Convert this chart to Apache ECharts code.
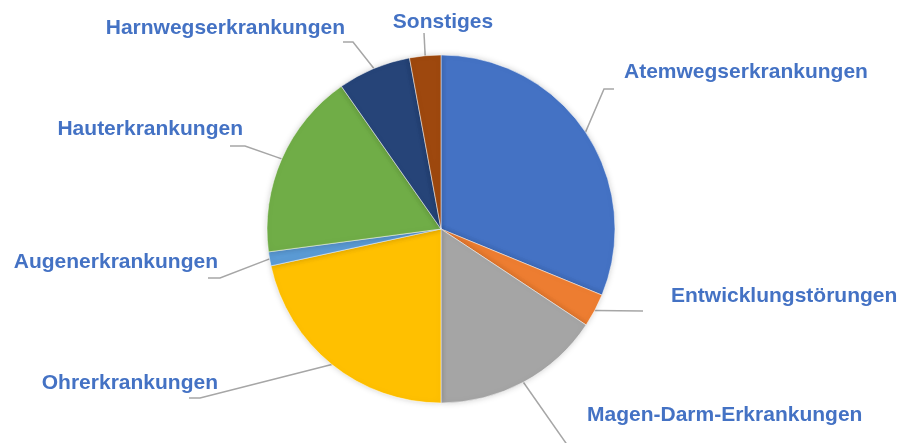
<!DOCTYPE html>
<html>
<head>
<meta charset="utf-8">
<script src="https://cdn.jsdelivr.net/npm/echarts@6/dist/echarts.min.js"></script>
<style>
  html, body { margin: 0; padding: 0; background: #fff; }
  #chart { width: 905px; height: 443px; }
</style>
</head>
<body>
<div id="chart"></div>
<script>
// Anteile in Prozent (aus dem Bild geschätzt)
var categories = [
  "Atemwegserkrankungen",
  "Entwicklungstörungen",
  "Magen-Darm-Erkrankungen",
  "Ohrerkrankungen",
  "Augenerkrankungen",
  "Hauterkrankungen",
  "Harnwegserkrankungen",
  "Sonstiges"
];
var values = [31.2, 3.1, 15.7, 21.6, 1.3, 17.4, 6.8, 2.9];
var colors = ["#4472C4", "#ED7D31", "#A5A5A5", "#FFC000", "#5B9BD5", "#70AD47", "#264478", "#9E480E"];

// label placement: [x, y, align, knee/end points of the leader line]
var labelSpots = [
  { x: 624, y: 72, align: "left", line: [[604, 89], [614, 89]] },
  { x: 671, y: 296, align: "left", line: [[643, 311]] },
  { x: 587, y: 415, align: "left", line: [[575, 456]] },
  { x: 218, y: 383, align: "right", line: [[200, 398], [189, 398]] },
  { x: 218, y: 262, align: "right", line: [[220, 278], [208, 278]] },
  { x: 243, y: 129, align: "right", line: [[245, 146], [230, 146]] },
  { x: 345, y: 28, align: "right", line: [[353, 42], [343, 42]] },
  { x: 443, y: 22, align: "center", line: [[424, 33]] }
];

var chart = echarts.init(document.getElementById("chart"));

chart.setOption({
  animation: false,
  color: colors,
  series: [
    {
      type: "pie",
      center: [441, 229],
      radius: [0, 174],
      startAngle: 90,
      clockwise: true,
      data: categories.map(function(name, i) {
        return { name: name, value: values[i] };
      }),
      itemStyle: {
        borderColor: "#fff",
        borderWidth: 0.5,
        shadowBlur: 6,
        shadowColor: "rgba(0,0,0,0.18)"
      },
      emphasis: { disabled: true },
      label: {
        show: true,
        position: "outside",
        formatter: "{b}",
        color: "#4472C4",
        fontFamily: "Liberation Sans",
        fontWeight: "bold",
        fontSize: 21
      },
      labelLine: {
        show: true,
        lineStyle: { color: "#A6A6A6", width: 1.5 }
      },
      labelLayout: function(params) {
        var s = labelSpots[params.dataIndex];
        var pts = params.labelLinePoints || [];
        var start = pts[0];
        var line = start ? [start].concat(s.line) : null;
        var out = {
          x: s.x,
          y: s.y,
          align: s.align,
          verticalAlign: "middle"
        };
        if (line) out.labelLinePoints = line;
        return out;
      }
    }
  ]
});
</script>
</body>
</html>
